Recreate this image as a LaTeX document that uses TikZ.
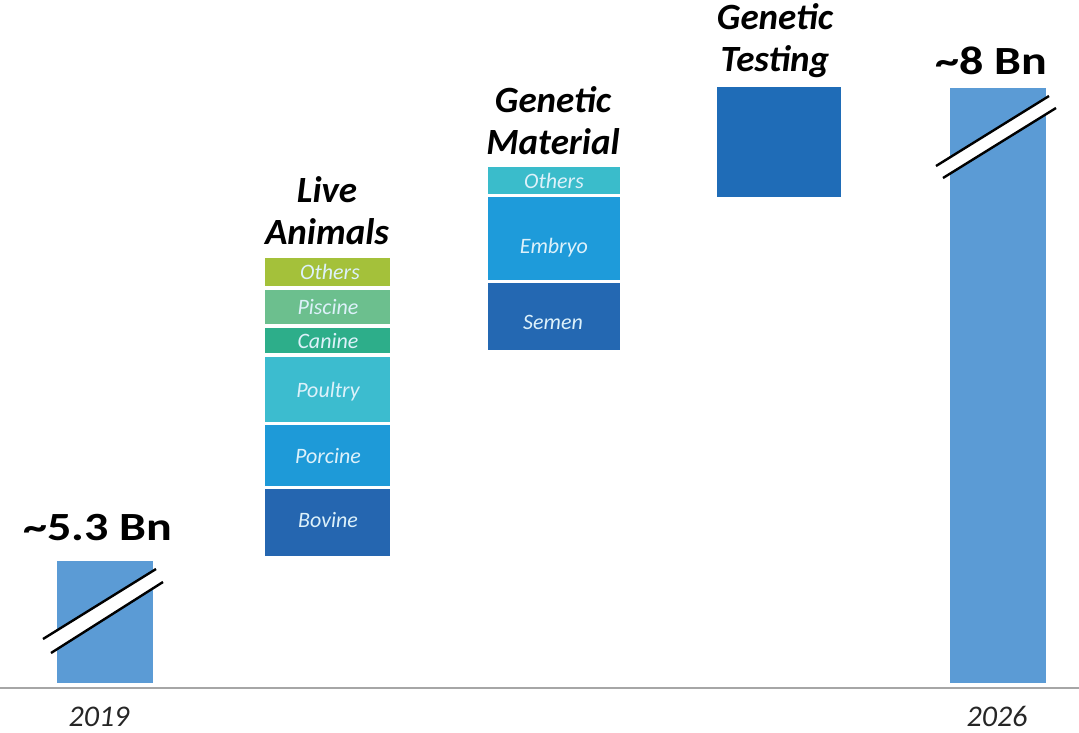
\documentclass[tikz,border=0pt]{standalone}
\usepackage{fontspec}
\setmainfont{Carlito}
\definecolor{barblue}{HTML}{5B9BD5}
\definecolor{laoth}{HTML}{A4C13A}
\definecolor{lapis}{HTML}{6CBF8E}
\definecolor{lacan}{HTML}{2DAE8A}
\definecolor{lapou}{HTML}{3CBCCF}
\definecolor{lapor}{HTML}{1E9AD8}
\definecolor{labov}{HTML}{2566B0}
\definecolor{gmoth}{HTML}{3ABCCB}
\definecolor{gmemb}{HTML}{1E9BDA}
\definecolor{gmsem}{HTML}{2468B2}
\definecolor{gtest}{HTML}{1F6CB7}
\definecolor{segtext}{HTML}{DDF1FA}
\definecolor{axisgray}{HTML}{A6A6A6}
\definecolor{yeartext}{HTML}{262626}
\begin{document}
\begin{tikzpicture}[x=1pt,y=-1pt,
  box/.style={draw=none, inner sep=0pt},
  seglbl/.style={inner sep=0pt, text=segtext, font=\itshape\fontsize{22}{26}\selectfont},
  title/.style={align=center, inner sep=0pt, font=\bfseries\itshape\fontsize{37}{42}\selectfont},
  bignum/.style={inner sep=0pt, xscale=1.2, font=\bfseries\fontsize{40}{44}\selectfont},
  yearlbl/.style={inner sep=0pt, text=yeartext, font=\itshape\fontsize{30}{34}\selectfont},
  brkline/.style={draw=black, line width=2.4pt}]
\useasboundingbox (0,0) rectangle (1079,732);
\fill[white] (0,0) rectangle (1079,732);

% axis
\draw[axisgray, line width=1.2pt] (0,688) -- (1079,688);

% 2019 bar
\node[box, fill=barblue, minimum width=96pt, minimum height=122pt] (b2019) at (105,622) {};
\fill[white] (43,639) -- (156,569) -- (163,582) -- (51,653) -- cycle;
\draw[brkline] (43,639) -- (156,569);
\draw[brkline] (51,653) -- (163,582);
\node[bignum] (v2019) at (98,528) {\char"007E 5.3 Bn};
\node[yearlbl] (y2019) at (99,717) {2019};

% Live animals
\node[title] (tla) at (327,211) {Live\\Animals};
\node[box, fill=laoth, minimum width=125pt, minimum height=28pt] (laoth) at (327.5,272) {};
\node[box, fill=lapis, minimum width=125pt, minimum height=34pt] (lapis) at (327.5,307) {};
\node[box, fill=lacan, minimum width=125pt, minimum height=25pt] (lacan) at (327.5,340.5) {};
\node[box, fill=lapou, minimum width=125pt, minimum height=65pt] (lapou) at (327.5,389.5) {};
\node[box, fill=lapor, minimum width=125pt, minimum height=61pt] (lapor) at (327.5,455.5) {};
\node[box, fill=labov, minimum width=125pt, minimum height=67pt] (labov) at (327.5,522.5) {};
\node[seglbl] (llaoth) at (330,272) {Others};
\node[seglbl] (llapis) at (328,307) {Piscine};
\node[seglbl] (llacan) at (328,341) {Canine};
\node[seglbl] (llapou) at (328,392) {Poultry};
\node[seglbl] (llapor) at (328,456) {Porcine};
\node[seglbl] (llabov) at (328,520) {Bovine};

% Genetic material
\node[title] (tgm) at (553,121) {Genetic\\Material};
\node[box, fill=gmoth, minimum width=132pt, minimum height=27pt] (gmoth) at (554,180.5) {};
\node[box, fill=gmemb, minimum width=132pt, minimum height=83pt] (gmemb) at (554,238.5) {};
\node[box, fill=gmsem, minimum width=132pt, minimum height=67pt] (gmsem) at (554,316.5) {};
\node[seglbl] (lgmoth) at (554,181) {Others};
\node[seglbl] (lgmemb) at (554,248) {Embryo};
\node[seglbl] (lgmsem) at (553,322) {Semen};

% Genetic testing
\node[title] (tgt) at (775,41) {Genetic\\Testing};
\node[box, fill=gtest, minimum width=124pt, minimum height=110pt] (gt) at (779,142) {};

% 2026 bar
\node[box, fill=barblue, minimum width=96pt, minimum height=595pt] (b2026) at (998,385.5) {};
\fill[white] (936,166) -- (1049,96) -- (1056,108) -- (943,178) -- cycle;
\draw[brkline] (936,166) -- (1049,96);
\draw[brkline] (943,178) -- (1056,108);
\node[bignum] (v2026) at (991,61) {\char"007E 8 Bn};
\node[yearlbl] (y2026) at (997,716) {2026};
\end{tikzpicture}
\end{document}
